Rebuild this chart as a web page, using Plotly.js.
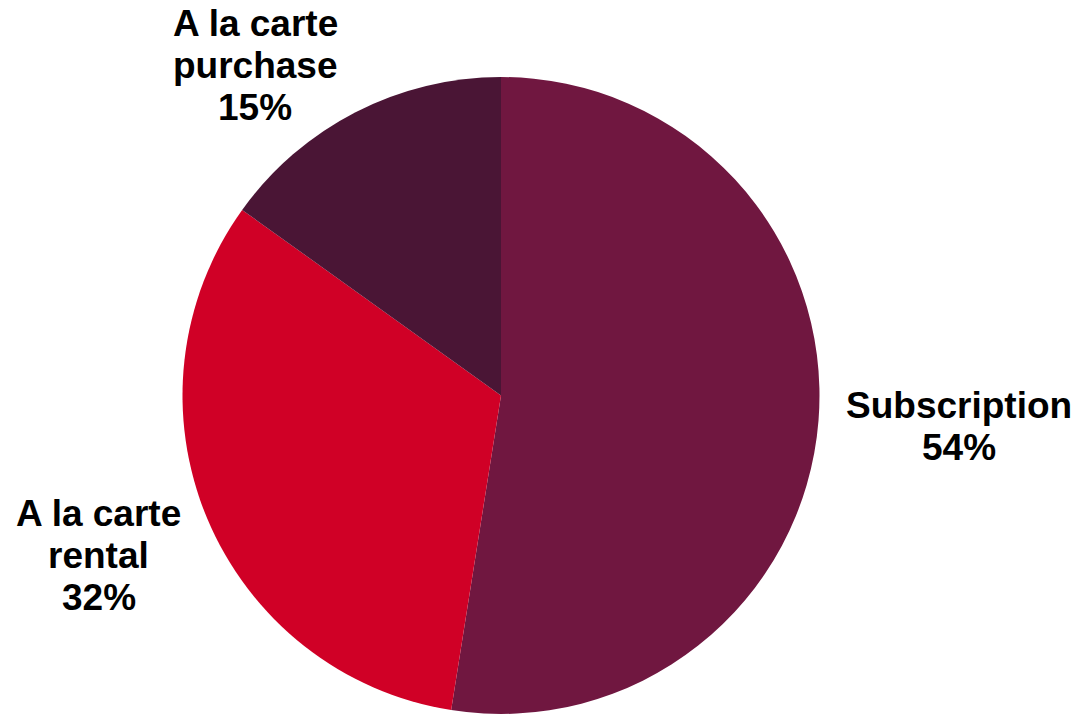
<!DOCTYPE html>
<html>
<head>
<meta charset="utf-8">
<script src="https://cdn.plot.ly/plotly-3.0.1.min.js"></script>
<style>html,body{margin:0;padding:0;background:#fff;}#chart{width:1079px;height:714px;}</style>
</head>
<body>
<div id="chart"></div>
<script>
// Data
const categories = ["Subscription", "A la carte rental", "A la carte purchase"];
const shares = [52.5, 32.4, 15.1];            // slice sizes as drawn
const shownPercents = ["54%", "32%", "15%"];  // percent labels as printed
const labelLines = [["Subscription"], ["A la carte", "rental"], ["A la carte", "purchase"]];
const colors = ["#701740", "#D00026", "#4A1535"];

// label placement (layout only): block centre x (px) and first-line centre y (px)
const W = 1079, H = 714, LINE = 42;
const labelPos = [
  {x: 958.5, y: 405.5},
  {x: 98.5, y: 513.5},
  {x: 255, y: 23.5}
];

const trace = {
  type: "pie",
  labels: categories,
  values: shares,
  sort: false,
  direction: "clockwise",
  rotation: 0,
  textposition: "none",
  hoverinfo: "label+percent",
  marker: {colors: colors, line: {width: 0}},
  domain: {x: [0.16914, 0.75950], y: [0, 0.89216]},
  showlegend: false
};

const annotations = [];
categories.forEach((c, i) => {
  const lines = labelLines[i].concat([shownPercents[i]]);
  lines.forEach((t, j) => {
    annotations.push({
      xref: "paper", yref: "paper",
      x: labelPos[i].x / W,
      y: 1 - (labelPos[i].y + j * LINE) / H,
      xanchor: "center", yanchor: "middle",
      showarrow: false,
      text: "<b>" + t + "</b>",
      font: {family: "Liberation Sans, Arial, sans-serif", size: 37, color: "#000000"}
    });
  });
});

Plotly.newPlot("chart", [trace], {
  width: W, height: H,
  margin: {l: 0, r: 0, t: 0, b: 0},
  paper_bgcolor: "#ffffff",
  annotations: annotations
}, {displayModeBar: false, staticPlot: true});
</script>
</body>
</html>
